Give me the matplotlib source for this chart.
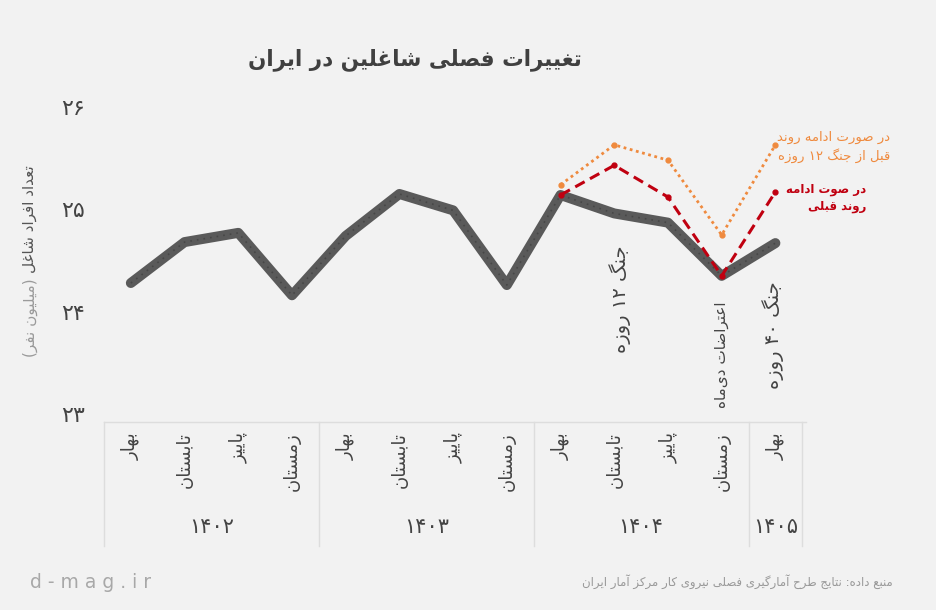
import matplotlib
matplotlib.use('Agg')
import matplotlib.pyplot as plt
from matplotlib.lines import Line2D
from matplotlib.transforms import blended_transform_factory

# data (millions of employed people)
seasons = ['بهار', 'تابستان', 'پاییز', 'زمستان',
           'بهار', 'تابستان', 'پاییز', 'زمستان',
           'بهار', 'تابستان', 'پاییز', 'زمستان',
           'بهار']
years = ['۱۴۰۲', '۱۴۰۳', '۱۴۰۴', '۱۴۰۵']
year_len = [4, 4, 4, 1]
employed = [24.28, 24.68, 24.77, 24.16, 24.74, 25.15, 24.99, 24.26,
            25.14, 24.96, 24.87, 24.35, 24.67]
# projections from 1404 spring onwards
trend_idx = [8, 9, 10, 11, 12]
trend_prev = [25.14, 25.43, 25.12, 24.35, 25.17]
trend_prewar = [25.24, 25.63, 25.48, 24.75, 25.63]
yticks = [23, 24, 25, 26]

# --- minimal Persian shaping (matplotlib has no bidi/joining) ---
FORMS = {
    'آ': (0xFE81, 0xFE82), 'أ': (0xFE83, 0xFE84), 'ا': (0xFE8D, 0xFE8E),
    'ب': (0xFE8F, 0xFE90, 0xFE91, 0xFE92), 'پ': (0xFB56, 0xFB57, 0xFB58, 0xFB59),
    'ت': (0xFE95, 0xFE96, 0xFE97, 0xFE98), 'ث': (0xFE99, 0xFE9A, 0xFE9B, 0xFE9C),
    'ج': (0xFE9D, 0xFE9E, 0xFE9F, 0xFEA0), 'چ': (0xFB7A, 0xFB7B, 0xFB7C, 0xFB7D),
    'ح': (0xFEA1, 0xFEA2, 0xFEA3, 0xFEA4), 'خ': (0xFEA5, 0xFEA6, 0xFEA7, 0xFEA8),
    'د': (0xFEA9, 0xFEAA), 'ذ': (0xFEAB, 0xFEAC), 'ر': (0xFEAD, 0xFEAE),
    'ز': (0xFEAF, 0xFEB0), 'ژ': (0xFB8A, 0xFB8B),
    'س': (0xFEB1, 0xFEB2, 0xFEB3, 0xFEB4), 'ش': (0xFEB5, 0xFEB6, 0xFEB7, 0xFEB8),
    'ص': (0xFEB9, 0xFEBA, 0xFEBB, 0xFEBC), 'ض': (0xFEBD, 0xFEBE, 0xFEBF, 0xFEC0),
    'ط': (0xFEC1, 0xFEC2, 0xFEC3, 0xFEC4), 'ظ': (0xFEC5, 0xFEC6, 0xFEC7, 0xFEC8),
    'ع': (0xFEC9, 0xFECA, 0xFECB, 0xFECC), 'غ': (0xFECD, 0xFECE, 0xFECF, 0xFED0),
    'ف': (0xFED1, 0xFED2, 0xFED3, 0xFED4), 'ق': (0xFED5, 0xFED6, 0xFED7, 0xFED8),
    'ک': (0xFB8E, 0xFB8F, 0xFB90, 0xFB91), 'ك': (0xFB8E, 0xFB8F, 0xFB90, 0xFB91),
    'گ': (0xFB92, 0xFB93, 0xFB94, 0xFB95),
    'ل': (0xFEDD, 0xFEDE, 0xFEDF, 0xFEE0), 'م': (0xFEE1, 0xFEE2, 0xFEE3, 0xFEE4),
    'ن': (0xFEE5, 0xFEE6, 0xFEE7, 0xFEE8), 'ه': (0xFEE9, 0xFEEA, 0xFEEB, 0xFEEC),
    'و': (0xFEED, 0xFEEE),
    'ی': (0xFBFC, 0xFBFD, 0xFBFE, 0xFBFF), 'ي': (0xFBFC, 0xFBFD, 0xFBFE, 0xFBFF),
}
LAMALEF = {'ا': (0xFEFB, 0xFEFC), 'آ': (0xFEF5, 0xFEF6), 'أ': (0xFEF7, 0xFEF8)}
DIGITS = set('0123456789۰۱۲۳۴۵۶۷۸۹')


def shape(text):
    out = []
    i, n = 0, len(text)
    while i < n:
        c = text[i]
        if c not in FORMS:
            if c != '\u200c':
                out.append(c)
            i += 1
            continue
        prev = text[i - 1] if i > 0 else None
        nxt = text[i + 1] if i + 1 < n else None
        jp = prev in FORMS and len(FORMS[prev]) == 4
        if c == 'ل' and nxt in LAMALEF:
            out.append(chr(LAMALEF[nxt][1 if jp else 0]))
            i += 2
            continue
        f = FORMS[c]
        jn = len(f) == 4 and nxt in FORMS
        if len(f) == 4:
            k = 3 if (jp and jn) else 1 if jp else 2 if jn else 0
        else:
            k = 1 if jp else 0
        out.append(chr(f[k]))
        i += 1
    return ''.join(out)


def visual(s):
    tokens = []
    for ch in s:
        if ch in DIGITS and tokens and tokens[-1][0] in DIGITS:
            tokens[-1] += ch
        else:
            tokens.append(ch)
    tokens.reverse()
    mirror = {'(': ')', ')': '('}
    return ''.join(mirror.get(t, t) for t in tokens)


def fa(text):
    return '\n'.join(visual(shape(line)) for line in text.split('\n'))


def fa_num(v):
    return fa(str(v).translate(str.maketrans('0123456789', '۰۱۲۳۴۵۶۷۸۹')))


plt.rcParams['font.family'] = ['DejaVu Sans']
BG = '#f2f2f2'
W, H = 936, 610


def fy(py):
    return 1 - py / H


fig = plt.figure(figsize=(W / 100, H / 100), dpi=100)
fig.patch.set_facecolor(BG)
ax = fig.add_axes([104 / W, fy(414), 702 / W, (414 - 107) / H])
ax.set_facecolor(BG)
ax.set_xlim(-0.5, 12.57)
ax.set_ylim(23, 26)
for s in ax.spines.values():
    s.set_visible(False)
ax.set_xticks([])
ax.set_yticks(yticks)
ax.set_yticklabels([fa_num(v) for v in yticks], fontsize=16, color='#444444')
ax.tick_params(axis='y', length=0, pad=14)

x = list(range(len(employed)))
ax.plot(x, employed, color='#5a5a5a', lw=7.2, solid_capstyle='round',
        solid_joinstyle='round', zorder=2)
ax.plot(x, employed, color='#474747', lw=1.2, ls=(0, (1, 3)), zorder=3)
ax.plot(trend_idx, trend_prewar, color='#ef8a3e', lw=2, ls=(0, (1, 1.3)),
        marker='o', ms=3.5, zorder=4)
ax.plot(trend_idx, trend_prev, color='#c00010', lw=2.2, ls=(0, (3.5, 2)),
        marker='o', ms=3.5, zorder=5)

# event annotations
ax.text(9.1, 25.0 - 0.35, fa('جنگ ۱۲ روزه'), rotation=90, ha='center', va='top',
        fontsize=14, color='#444444')
ax.text(11.0, 24.1, fa('اعتراضات دی\u200cماه'), rotation=90, ha='center', va='top',
        fontsize=11, color='#444444')
ax.text(11.95, 24.3, fa('جنگ ۴۰ روزه'), rotation=90, ha='center', va='top',
        fontsize=14, color='#444444')

# legend-like notes
fig.text(890 / W, fy(147), fa('در صورت ادامه روند\nقبل از جنگ ۱۲ روزه'),
         ha='right', va='center', multialignment='right', fontsize=9.5,
         color='#ef8a3e', linespacing=1.35)
fig.text(866 / W, fy(198), fa('در صوت ادامه\nروند قبلی'), ha='right',
         va='center', multialignment='right', fontsize=8.5, fontweight='bold',
         color='#c00010', linespacing=1.45)

# category box under the axis
bt = blended_transform_factory(ax.transData, fig.transFigure)
edges = [-0.5]
for n in year_len:
    edges.append(edges[-1] + n)
fig.add_artist(Line2D([-0.5, 12.57], [fy(422), fy(422)], transform=bt,
                      color='#dddddd', lw=1))
for e in edges:
    fig.add_artist(Line2D([min(e, 12.57)] * 2, [fy(422), fy(546)], transform=bt,
                          color='#dddddd', lw=1))
for i, s in enumerate(seasons):
    fig.text(i, fy(432), fa(s), transform=bt, rotation=90, ha='center',
             va='top', fontsize=13, color='#444444')
for k, yr in enumerate(years):
    c = (edges[k] + min(edges[k + 1], 12.57)) / 2
    fig.text(c, fy(527), fa(yr), transform=bt, ha='center', va='center',
             fontsize=15, color='#444444')

# titles and labels
fig.text(415 / W, fy(60), fa('تغییرات فصلی شاغلین در ایران'), ha='center',
         va='center', fontsize=15.5, fontweight='bold', color='#404040')
fig.text(30 / W, fy(273), fa('تعداد افراد شاغل'), rotation=90, ha='center',
         va='bottom', fontsize=11, color='#555555')
fig.text(30 / W, fy(278), fa('(میلیون نفر)'), rotation=90, ha='center',
         va='top', fontsize=11, color='#9a9a9a')
fig.text(30 / W, fy(582), 'd - m a g . i r', ha='left', va='center',
         fontsize=13.5, color='#a8a8a8')
fig.text(893 / W, fy(582),
         fa('منبع داده: نتایج طرح آمارگیری فصلی نیروی کار مرکز آمار ایران'),
         ha='right', va='center', fontsize=8.5, color='#999999')

fig.savefig('out.png', dpi=100, facecolor=BG)
